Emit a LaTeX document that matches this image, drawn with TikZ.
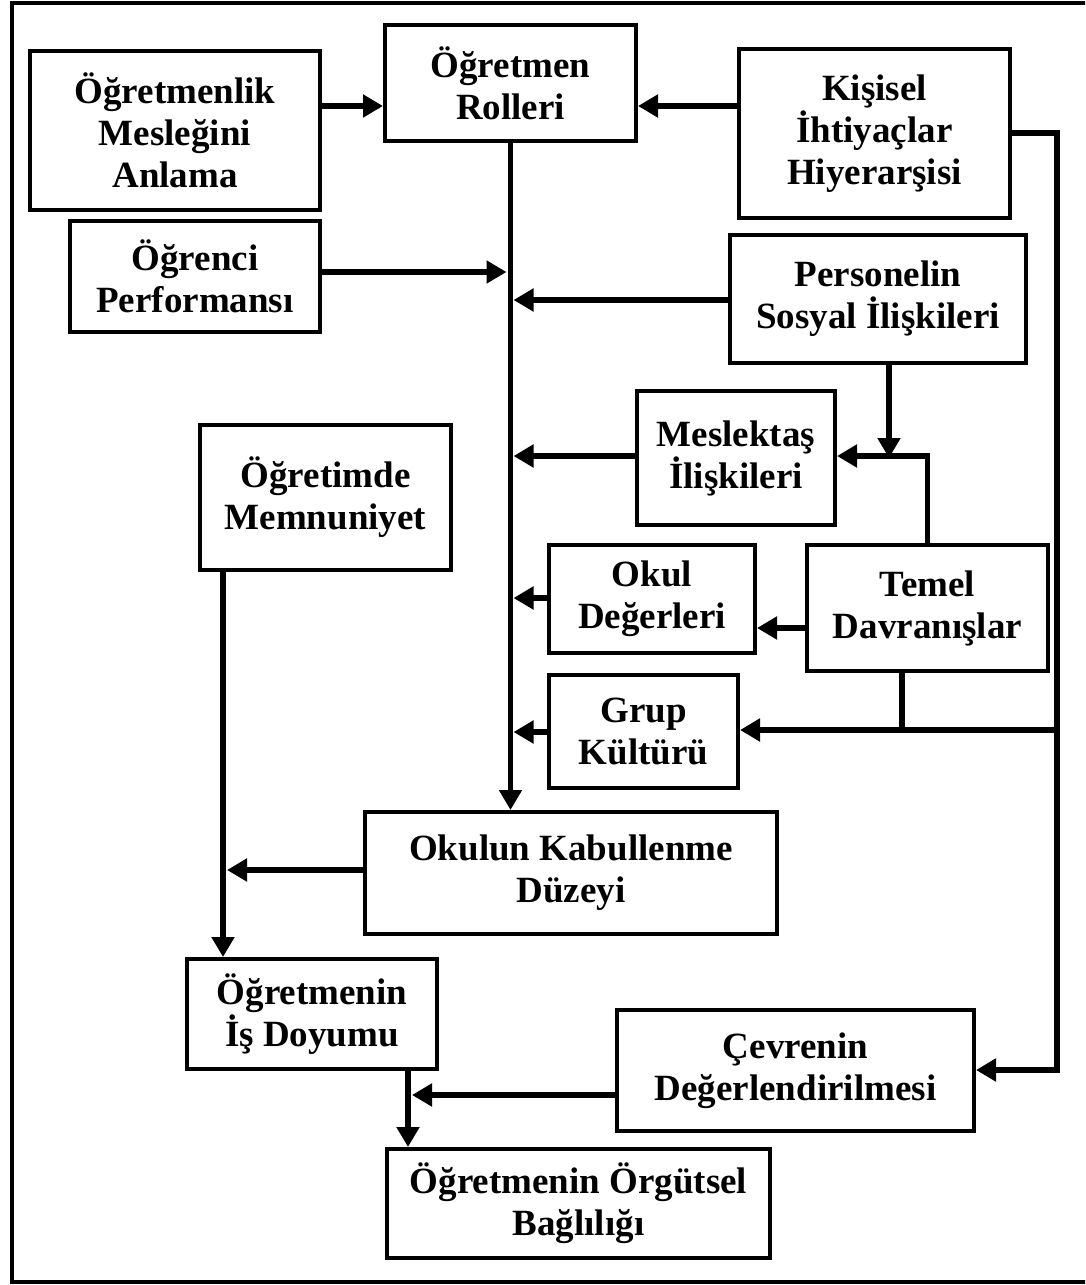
\documentclass[tikz,border=0pt]{standalone}
\usepackage{fontspec}
\setmainfont{Liberation Serif}
\usetikzlibrary{arrows.meta,calc}

\tikzset{
  box/.style={draw, line width=4pt, fill=white, align=center, inner sep=0pt,
    font=\fontsize{37}{42}\selectfont\bfseries},
  conn/.style={line width=5.5pt, line join=miter},
  arr/.style={conn, -{Triangle[length=20pt,width=22pt]}},
}

\begin{document}
\begin{tikzpicture}[x=1pt,y=-1pt]
\useasboundingbox (0,0) rectangle (1085,1285);
\clip (0,0) rectangle (1085,1285);

% outer frame
\draw[line width=3.5pt] (12,3) rectangle (1110,1282);

% boxes
\node[box, minimum width=290pt, minimum height=159pt] (mesleg) at (175,130.5) {Öğretmenlik\\Mesleğini\\Anlama};
\node[box, minimum width=250pt, minimum height=111pt] (ogrenci) at (195,276.5) {Öğrenci\\Performansı};
\node[box, minimum width=251pt, minimum height=116pt] (roller) at (510.5,83) {Öğretmen\\Rolleri};
\node[box, minimum width=271pt, minimum height=169pt] (kisisel) at (874.5,133.5) {Kişisel\\İhtiyaçlar\\Hiyerarşisi};
\node[box, minimum width=296pt, minimum height=128pt] (personel) at (878,299) {Personelin\\Sosyal İlişkileri};
\node[box, minimum width=198pt, minimum height=134pt] (meslektas) at (736,458) {Meslektaş\\İlişkileri};
\node[box, minimum width=251pt, minimum height=145pt] (memnun) at (325.5,497.5) {Öğretimde\\Memnuniyet};
\node[box, minimum width=206pt, minimum height=108pt] (okul) at (652,599) {Okul\\Değerleri};
\node[box, minimum width=241pt, minimum height=126pt] (temel) at (927.5,608) {Temel\\Davranışlar};
\node[box, minimum width=189pt, minimum height=113pt] (grup) at (643.5,731.5) {Grup\\Kültürü};
\node[box, minimum width=412pt, minimum height=122pt] (kabul) at (571,873) {Okulun Kabullenme\\Düzeyi};
\node[box, minimum width=250pt, minimum height=110pt] (isdoy) at (312,1014) {Öğretmenin\\İş Doyumu};
\node[box, minimum width=357pt, minimum height=121pt] (cevre) at (795.5,1070.5) {Çevrenin\\Değerlendirilmesi};
\node[box, minimum width=383pt, minimum height=109pt] (bagli) at (578.5,1203.5) {Öğretmenin Örgütsel\\Bağlılığı};

% junction points on the trunk lines
\coordinate (mainL) at ([xshift=-4pt]roller.south);
\coordinate (mainR) at ([xshift=3pt]roller.south);
\coordinate (rtop) at (1057,133);
\coordinate (rbot) at (1057,1070);
\coordinate (rgrup) at (1057,730);
\coordinate (mjoin) at (889,456);
\coordinate (leftR) at (227,870);
\coordinate (isR) at (412,1095);

% top row into the roles box
\draw[arr] (mesleg.east |- 0,106) -- (roller.west |- 0,106);
\draw[arr] (kisisel.west |- 0,106) -- (roller.east |- 0,106);

% central trunk
\draw[arr] (roller.south) -- (roller.south |- kabul.north);
\draw[arr] (ogrenci.east |- 0,272) -- (mainL |- 0,272);
\draw[arr] (personel.west |- 0,300) -- (mainR |- 0,300);
\draw[arr] (meslektas.west |- 0,456) -- (mainR |- 0,456);
\draw[arr] (okul.west |- 0,598) -- (mainR |- 0,598);
\draw[arr] (grup.west |- 0,732) -- (mainR |- 0,732);

% feeds into the colleague box
\draw[arr] (personel.south -| mjoin) -- ([yshift=-2pt]mjoin);
\draw[arr] (temel.north) |- (meslektas.east |- mjoin);
\draw[arr] (temel.west |- 0,628) -- (okul.east |- 0,628);

% right-hand trunk
\draw[conn] (kisisel.east |- rtop) -- (rtop) -- (rbot);
\draw[arr] ([xshift=2.75pt]rbot) -- (cevre.east |- rbot);
\draw[arr] ([xshift=2.75pt]rgrup) -- (grup.east |- rgrup);
\draw[conn] (temel.south -| 902,0) -- (902,730);

% left trunk and bottom
\draw[arr] (memnun.south -| 223,0) -- (isdoy.north -| 223,0);
\draw[arr] (kabul.west |- leftR) -- (leftR);
\draw[arr] (isdoy.south -| 408,0) -- (bagli.north -| 408,0);
\draw[arr] (cevre.west |- isR) -- (isR);
\end{tikzpicture}
\end{document}
